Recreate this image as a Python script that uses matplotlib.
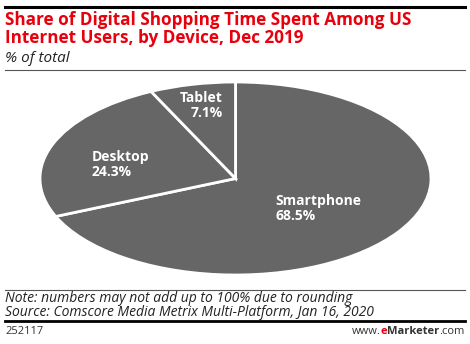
import matplotlib.pyplot as plt
from matplotlib.lines import Line2D

devices = ["Smartphone", "Desktop", "Tablet"]
shares = [68.5, 24.3, 7.1]

title_lines = ["Share of Digital Shopping Time Spent Among US",
               "Internet Users, by Device, Dec 2019"]
subtitle = "% of total"
note = "Note: numbers may not add up to 100% due to rounding"
source = "Source: Comscore Media Metrix Multi-Platform, Jan 16, 2020"
chart_id = "252117"

W, H = 470, 344
fig = plt.figure(figsize=(W / 100, H / 100), dpi=100)
SANS = "Open Sans"


def fx(px):
    return px / W


def fy(py):
    return 1 - py / H


# rules
fig.add_artist(Line2D([fx(5), fx(465)], [fy(7), fy(7)], color="black", lw=2.2))
fig.add_artist(Line2D([fx(5), fx(465)], [fy(70), fy(70)], color="#555555", lw=0.8))
fig.add_artist(Line2D([fx(5), fx(465)], [fy(290), fy(290)], color="#555555", lw=0.8))
fig.add_artist(Line2D([fx(5), fx(465)], [fy(321), fy(321)], color="black", lw=2))

# multi-line texts are anchored on the baseline of their last line
fig.text(fx(5), fy(43), "\n".join(title_lines), color="#e8000d", fontsize=12.3,
         fontweight="bold", family=SANS, va="baseline", ha="left", linespacing=1.0)
fig.text(fx(5), fy(62), subtitle, fontsize=11, style="italic", family=SANS,
         va="baseline", ha="left", color="#222222")
fig.text(fx(5), fy(315.5), note + "\n" + source, fontsize=10, style="italic",
         family=SANS, va="baseline", ha="left", color="#222222", linespacing=0.88)
fig.text(fx(5), fy(334), chart_id, fontsize=8, family=SANS, va="baseline",
         ha="left", color="#333333")

# footer url, built right to left
fig.canvas.draw()
renderer = fig.canvas.get_renderer()
x_right = 465
parts = [(".com", "normal", "#333333"), ("Marketer", "bold", "#333333"),
         ("e", "bold", "#e8000d"), ("www.", "normal", "#333333")]
for txt, weight, col in parts:
    t = fig.text(fx(x_right), fy(334), txt, fontsize=8, fontweight=weight,
                 family=SANS, va="baseline", ha="right", color=col)
    bb = t.get_window_extent(renderer)
    x_right -= bb.width

# elliptical pie
ax = fig.add_axes([fx(40), fy(275), fx(431) - fx(40), (275 - 82) / H])
wedges, _ = ax.pie(shares, startangle=90, counterclock=False, colors=["#666666"] * 3,
                   wedgeprops=dict(edgecolor="white", linewidth=2))
ax.set_aspect("auto")
ax.set_xlim(-1, 1)
ax.set_ylim(-1, 1)
ax.axis("off")

label_pos = {
    "Smartphone": (275, 194, "left"),
    "Desktop": (92, 150, "left"),
    "Tablet": (223, 91, "right"),
}
for name, val in zip(devices, shares):
    x, y, ha = label_pos[name]
    fig.text(fx(x), fy(y), f"{name}\n{val}%", color="white", fontsize=10,
             fontweight="bold", family=SANS, va="top", ha=ha, linespacing=1.05)

fig.savefig("out.png", dpi=100)
